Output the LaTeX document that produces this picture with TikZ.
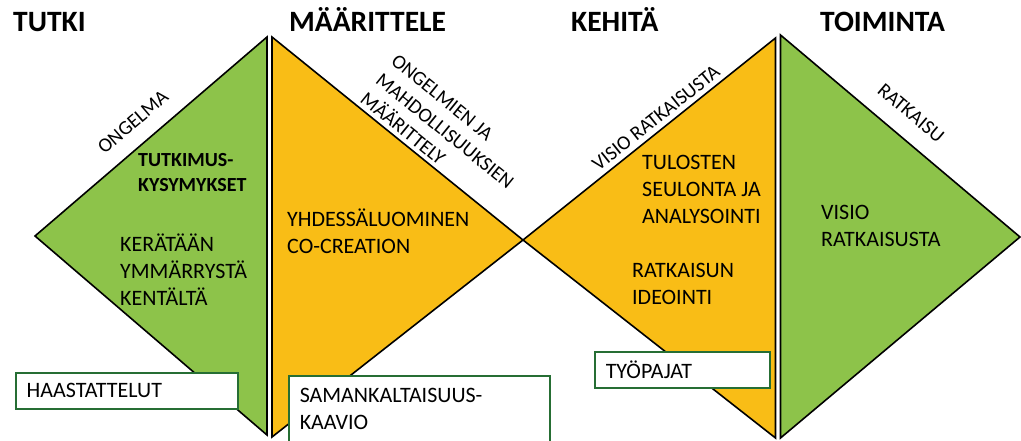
\documentclass[tikz,border=0pt]{standalone}
\usepackage{fontspec}
\setmainfont{Carlito}
\usepackage{xcolor}
\usepackage{tikz}
\usetikzlibrary{positioning, calc}

\definecolor{leafgreen}{RGB}{141,195,74}
\definecolor{sunorange}{RGB}{249,189,22}
\definecolor{boxgreen}{RGB}{38,110,52}

\begin{document}
\begin{tikzpicture}[x=1pt, y=-1pt,
  tri/.style={draw=black, line width=1.6pt, line join=miter},
  phase/.style={anchor=base west, inner sep=0pt, font=\bfseries\fontsize{29.5}{34}\selectfont},
  edgelbl/.style={inner sep=0pt, align=left, font=\fontsize{20}{24.5}\selectfont},
  body/.style={anchor=north west, inner sep=0pt, align=left, font=\fontsize{22}{27}\selectfont},
  toolbox/.style={draw=boxgreen, fill=white, line width=1.5pt, anchor=north west, inner xsep=11pt, inner ysep=0pt, align=left, font=\fontsize{22}{27}\selectfont}]

\useasboundingbox (0,0) rectangle (1021,441);

% Triangle corners
\coordinate (tutkiTip) at (35,236);
\coordinate (tutkiTop) at (267,37);
\coordinate (tutkiBot) at (267,435);
\coordinate (maarTop)  at (272,37);
\coordinate (maarBot)  at (272,437);
\coordinate (cross)    at (523,240);
\coordinate (kehTop)   at (775.5,38);
\coordinate (kehBot)   at (775.5,438);
\coordinate (toimTop)  at (780.5,35);
\coordinate (toimBot)  at (780.5,438);
\coordinate (toimTip)  at (1020,237);

% Triangles
\filldraw[tri, fill=leafgreen]  (tutkiTip) -- (tutkiTop) -- (tutkiBot) -- cycle;
\filldraw[tri, fill=sunorange]  (maarTop) -- (cross) -- (maarBot) -- cycle;
\filldraw[tri, fill=sunorange]  (cross) -- (kehTop) -- (kehBot) -- cycle;
\filldraw[tri, fill=leafgreen]  (toimTop) -- (toimTip) -- (toimBot) -- cycle;

% Phase titles
\node[phase] (tutki) at (13,32)  {TUTKI};
\node[phase] (maar)  at (289,32) {MÄÄRITTELE};
\node[phase] (kehita) at (571,32) {KEHITÄ};
\node[phase] (toim)  at (820,32) {TOIMINTA};

% Labels along the slanted edges
\node[edgelbl, rotate=40.6] (ongelma) at (133,122) {ONGELMA};
\node[edgelbl, rotate=-39.0] (maarlbl) at (445,131) {ONGELMIEN JA\\MAHDOLLISUUKSIEN\\MÄÄRITTELY};
\node[edgelbl, rotate=38.6] (visiolbl) at (656,118) {VISIO RATKAISUSTA};
\node[edgelbl, rotate=-40.1] (ratklbl) at (911,113) {RATKAISU};

% Texts inside the triangles
\node[body, font=\bfseries\fontsize{20}{25}\selectfont] (kysym) at (138,153) {TUTKIMUS-\\KYSYMYKSET};
\node[body] (kerataan) at (120,234) {KERÄTÄÄN\\YMMÄRRYSTÄ\\KENTÄLTÄ};
\node[body] (yhdessa)  at (287,209) {YHDESSÄLUOMINEN\\CO-CREATION};
\node[body] (tulosten) at (642,155) {TULOSTEN\\SEULONTA JA\\ANALYSOINTI};
\node[body] (ideointi) at (632,263) {RATKAISUN\\IDEOINTI};
\node[body] (visio)    at (821,205) {VISIO\\RATKAISUSTA};

% Method boxes
\node[toolbox, text width=200pt, minimum height=36pt] (haast)  at (15,372)  {HAASTATTELUT};
\node[toolbox, text width=239pt, minimum height=66pt] (saman)  at (288,375) {SAMANKALTAISUUS-\\KAAVIO};
\node[toolbox, text width=153pt, minimum height=36pt] (tyopaj) at (594,351) {TYÖPAJAT};

\end{tikzpicture}
\end{document}
